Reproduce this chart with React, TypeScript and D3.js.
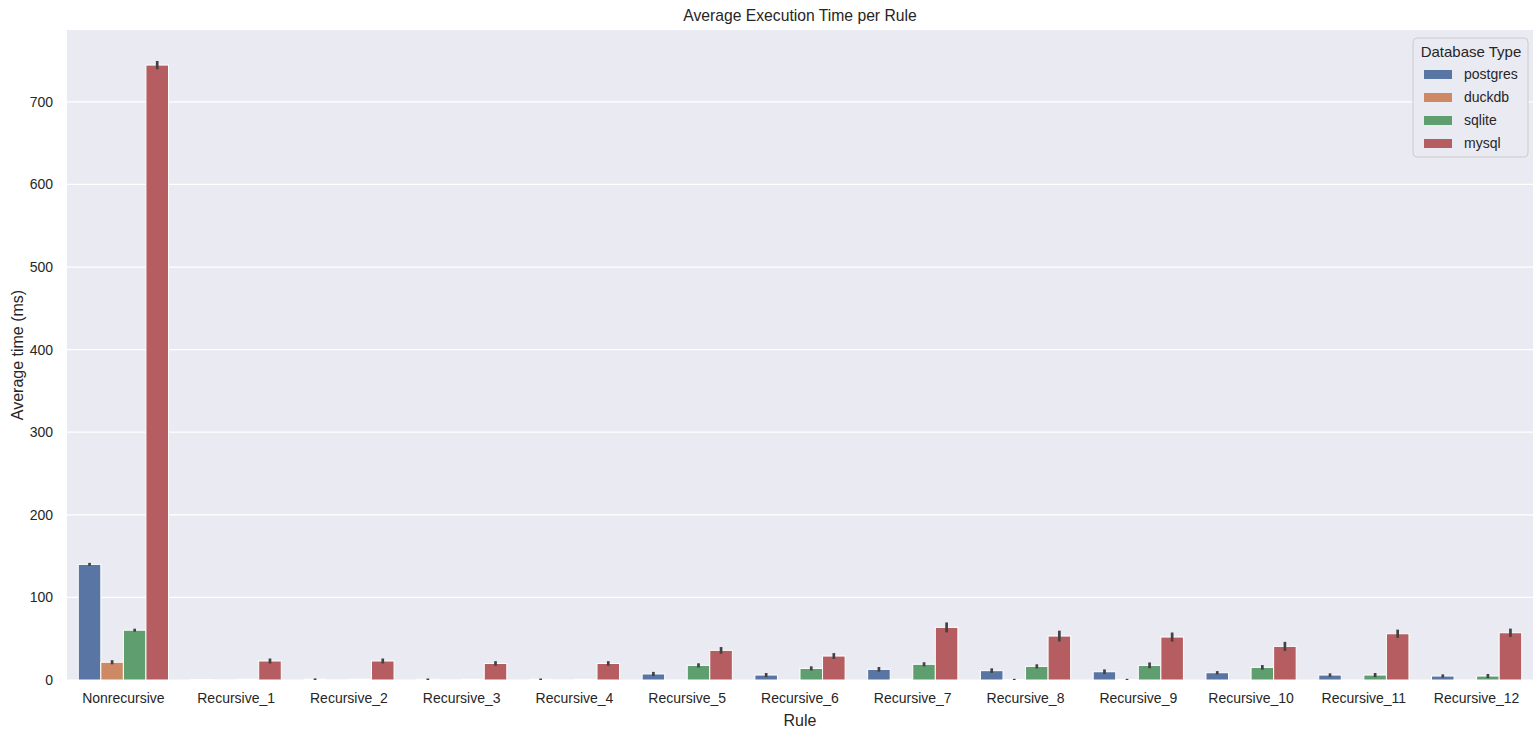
import React from "react";
import * as d3 from "d3";

// Average execution time (ms) per rule and database engine
const rules = [
  "Nonrecursive", "Recursive_1", "Recursive_2", "Recursive_3", "Recursive_4",
  "Recursive_5", "Recursive_6", "Recursive_7", "Recursive_8", "Recursive_9",
  "Recursive_10", "Recursive_11", "Recursive_12",
];
const dbTypes = ["postgres", "duckdb", "sqlite", "mysql"];

const postgresMean = [140, 0.6, 0.9, 0.8, 0.8, 7.3, 6, 12.9, 11.3, 10, 8.8, 6, 4.8];
const duckdbMean = [21.5, 0.4, 0.4, 0.4, 0.4, 0.3, 0.3, 1.0, 0.6, 0.6, 0.3, 0.3, 0.3];
const sqliteMean = [60.3, 0.9, 0.9, 0.8, 0.8, 17.7, 14, 19, 16.5, 17.7, 15.3, 6, 4.8];
const mysqlMean = [744.5, 23, 23, 20, 20, 35.9, 29, 63.7, 53.2, 52, 40.7, 56, 57.2];

// Half-width of the confidence interval for each bar
const postgresErr = [1.8, 0, 1.0, 1.0, 1.0, 2.5, 2.5, 2.8, 2.8, 2.8, 2.0, 2.0, 2.0];
const duckdbErr = [2.5, 0, 0, 0, 0, 0, 0, 0, 0.8, 0.8, 0, 0, 0];
const sqliteErr = [1.8, 0, 0, 0, 0, 2.5, 2.5, 2.5, 2.5, 3.5, 2.8, 2.5, 2.5];
const mysqlErr = [5, 3, 3, 2.8, 2.8, 4, 3.6, 6, 6.5, 5.5, 5.5, 5, 5];

const yTicks = [0, 100, 200, 300, 400, 500, 600, 700];

const means = [postgresMean, duckdbMean, sqliteMean, mysqlMean];
const errs = [postgresErr, duckdbErr, sqliteErr, mysqlErr];
const colors = ["#5975a4", "#cc8963", "#5f9e6e", "#b55d60"];

const W = 1533;
const H = 731;
const M = { left: 67, right: 1533, top: 30, bottom: 680 };
const FONT = "'Liberation Sans', Arial, sans-serif";

export default function App() {
  const x = d3.scaleBand<string>().domain(rules).range([M.left, M.right]).padding(0);
  const bw = x.bandwidth();
  const xInner = d3
    .scaleBand<string>()
    .domain(dbTypes)
    .range([0.1 * bw, 0.9 * bw])
    .padding(0);
  const maxTop = d3.max(means.map((m, i) => d3.max(m.map((v, j) => v + errs[i][j])) as number)) as number;
  const y = d3.scaleLinear().domain([0, maxTop * 1.05]).range([M.bottom, M.top]);

  const legendX = 1413;
  const legendY = 38;

  return (
    <svg
      width={W}
      height={H}
      style={{ position: "absolute", left: 0, top: 0, background: "#fff" }}
      fontFamily={FONT}
    >
      <rect x={M.left} y={M.top} width={M.right - M.left} height={M.bottom - M.top} fill="#eaeaf2" />
      {yTicks.map((t) => (
        <g key={t}>
          <line x1={M.left} x2={M.right} y1={y(t)} y2={y(t)} stroke="#fff" strokeWidth={1.2} />
          <text x={M.left - 14} y={y(t)} dy="0.35em" textAnchor="end" fontSize={14} fill="#262626">
            {t}
          </text>
        </g>
      ))}

      {dbTypes.map((db, i) =>
        rules.map((r, j) => {
          const v = means[i][j];
          const bx = (x(r) as number) + (xInner(db) as number);
          const w = xInner.bandwidth();
          return (
            <rect
              key={db + r}
              x={bx}
              y={y(v)}
              width={w}
              height={y(0) - y(v)}
              fill={colors[i]}
              stroke="#fff"
              strokeWidth={1}
            />
          );
        })
      )}

      {dbTypes.map((db, i) =>
        rules.map((r, j) => {
          const v = means[i][j];
          const e = errs[i][j];
          if (e <= 0) return null;
          const cx = (x(r) as number) + (xInner(db) as number) + xInner.bandwidth() / 2;
          return (
            <line
              key={"e" + db + r}
              x1={cx}
              x2={cx}
              y1={y(Math.max(0, v - e))}
              y2={y(v + e)}
              stroke="#424242"
              strokeWidth={2.7}
            />
          );
        })
      )}

      {rules.map((r) => (
        <text
          key={"xt" + r}
          x={(x(r) as number) + bw / 2}
          y={M.bottom + 18}
          dy="0.35em"
          textAnchor="middle"
          fontSize={14}
          fill="#262626"
        >
          {r}
        </text>
      ))}

      <text x={(M.left + M.right) / 2} y={720} textAnchor="middle" dy="0.35em" fontSize={16} fill="#262626">
        Rule
      </text>
      <text
        transform={`translate(17,${(M.top + M.bottom) / 2}) rotate(-90)`}
        textAnchor="middle"
        dy="0.35em"
        fontSize={16}
        fill="#262626"
      >
        Average time (ms)
      </text>
      <text x={(M.left + M.right) / 2} y={16} textAnchor="middle" dy="0.35em" fontSize={15.7} fill="#262626">
        Average Execution Time per Rule
      </text>

      <g>
        <rect
          x={legendX}
          y={legendY}
          width={115}
          height={119}
          rx={4}
          fill="#eaeaf2"
          stroke="#cccccc"
          strokeWidth={1}
        />
        <text x={legendX + 58} y={legendY + 14} dy="0.35em" textAnchor="middle" fontSize={15} fill="#262626">
          Database Type
        </text>
        {dbTypes.map((db, i) => (
          <g key={"lg" + db}>
            <rect x={legendX + 11} y={legendY + 32 + i * 23} width={28} height={9} fill={colors[i]} />
            <text x={legendX + 51} y={legendY + 36.5 + i * 23} dy="0.35em" fontSize={14} fill="#262626">
              {db}
            </text>
          </g>
        ))}
      </g>
    </svg>
  );
}
